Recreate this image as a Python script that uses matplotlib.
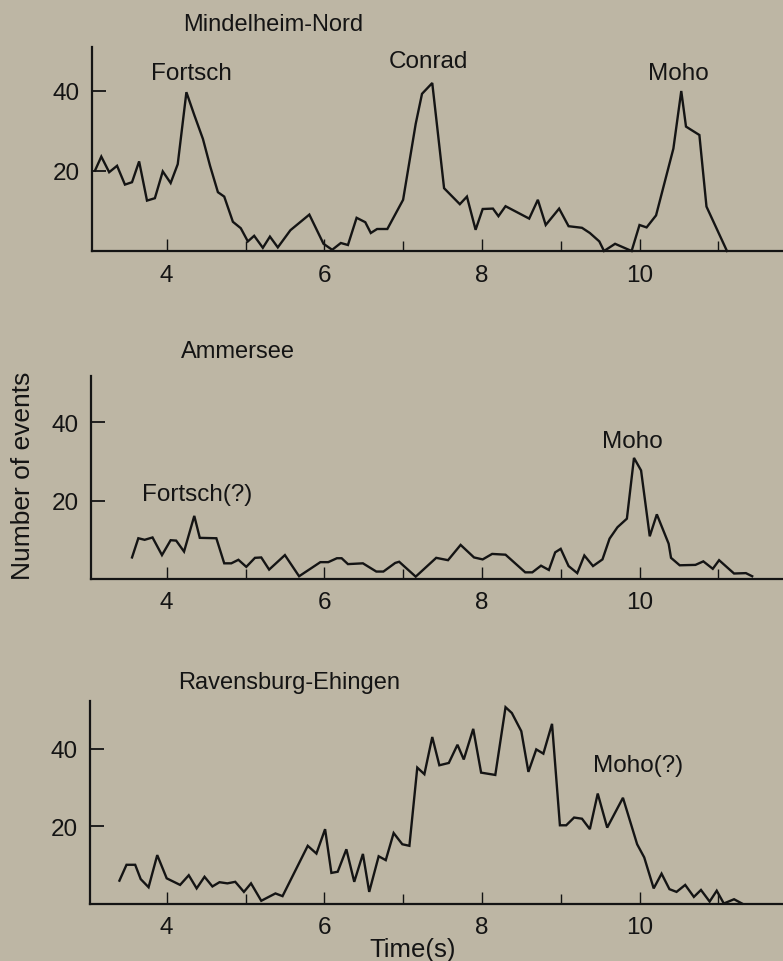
import matplotlib
matplotlib.use('Agg')
import matplotlib.pyplot as plt

plt.rcParams['font.family'] = ['Liberation Sans', 'DejaVu Sans']

bg = '#bdb6a4'
ink = '#141414'

# Mindelheim-Nord profile
t_mindel = [3.09, 3.17, 3.27, 3.37, 3.47, 3.56, 3.65, 3.75, 3.85, 3.95, 4.05, 4.14,
            4.25, 4.35, 4.46, 4.55, 4.65, 4.73, 4.84, 4.94, 5.03, 5.11, 5.22, 5.31,
            5.41, 5.57, 5.81, 5.99, 6.10, 6.21, 6.30, 6.41, 6.52, 6.59, 6.67, 6.80,
            7.00, 7.16, 7.24, 7.37, 7.52, 7.72, 7.81, 7.92, 8.01, 8.14, 8.21, 8.30,
            8.60, 8.71, 8.81, 8.98, 9.10, 9.27, 9.37, 9.49, 9.55, 9.69, 9.90, 10.00,
            10.09, 10.21, 10.43, 10.53, 10.59, 10.76, 10.85, 11.11]
n_mindel = [20.1, 23.6, 19.7, 21.3, 16.6, 17.2, 22.4, 12.6, 13.2, 19.9, 17.0, 21.7,
            39.7, 34.0, 28.0, 21.3, 14.7, 13.6, 7.3, 5.7, 2.4, 3.8, 0.8, 3.6,
            0.9, 5.2, 9.1, 1.8, 0.3, 2.0, 1.5, 8.3, 7.2, 4.5, 5.5, 5.5,
            12.8, 31.8, 39.3, 42.0, 15.7, 11.7, 13.6, 5.3, 10.5, 10.6, 8.7, 11.2,
            8.1, 12.8, 6.5, 10.6, 6.2, 5.8, 4.5, 2.4, 0.0, 1.8, 0.0, 6.5,
            5.9, 8.9, 25.6, 40.0, 31.1, 29.0, 11.1, 0.0]

# Ammersee profile
t_ammer = [3.56, 3.64, 3.72, 3.82, 3.94, 4.05, 4.12, 4.22, 4.35, 4.42, 4.63, 4.73,
           4.82, 4.91, 5.01, 5.12, 5.20, 5.30, 5.50, 5.68, 5.95, 6.05, 6.16, 6.22,
           6.30, 6.49, 6.66, 6.75, 6.90, 6.95, 7.16, 7.42, 7.57, 7.73, 7.90, 8.01,
           8.13, 8.30, 8.55, 8.64, 8.75, 8.85, 8.93, 9.00, 9.10, 9.21, 9.30, 9.41,
           9.53, 9.62, 9.72, 9.84, 9.93, 10.02, 10.13, 10.22, 10.37, 10.40, 10.51, 10.71,
           10.81, 10.93, 11.01, 11.20, 11.35, 11.43]
n_ammer = [5.5, 10.4, 10.0, 10.6, 6.1, 9.9, 9.8, 7.0, 16.1, 10.5, 10.4, 4.0,
           4.0, 4.9, 3.1, 5.4, 5.5, 2.4, 6.1, 0.7, 4.3, 4.3, 5.3, 5.3,
           3.8, 4.0, 1.9, 1.9, 4.1, 4.4, 0.6, 5.4, 4.8, 8.7, 5.5, 5.0,
           6.4, 6.2, 1.7, 1.7, 3.4, 2.3, 6.8, 7.7, 3.3, 1.5, 6.0, 3.3,
           5.0, 10.3, 13.2, 15.4, 30.9, 27.7, 10.9, 16.5, 9.0, 5.4, 3.5, 3.6,
           4.5, 2.6, 4.8, 1.4, 1.5, 0.7]

# Ravensburg-Ehingen profile
t_raven = [3.40, 3.49, 3.60, 3.67, 3.77, 3.88, 4.00, 4.17, 4.28, 4.38, 4.48, 4.58,
           4.67, 4.77, 4.87, 4.98, 5.07, 5.20, 5.38, 5.47, 5.79, 5.90, 6.01, 6.09,
           6.17, 6.28, 6.38, 6.49, 6.57, 6.69, 6.78, 6.88, 6.99, 7.08, 7.18, 7.27,
           7.37, 7.46, 7.58, 7.69, 7.77, 7.89, 7.99, 8.17, 8.30, 8.38, 8.50, 8.59,
           8.69, 8.78, 8.89, 8.99, 9.07, 9.17, 9.27, 9.37, 9.47, 9.59, 9.79, 9.97,
           10.06, 10.18, 10.28, 10.38, 10.47, 10.58, 10.69, 10.78, 10.89, 10.98, 11.07, 11.20,
           11.30]
n_raven = [5.9, 10.0, 10.0, 6.3, 4.2, 12.5, 6.5, 4.8, 7.3, 3.9, 6.9, 4.4,
           5.5, 5.2, 5.6, 3.0, 5.2, 0.7, 2.6, 1.9, 14.9, 12.9, 19.2, 7.9,
           8.2, 14.0, 5.6, 12.8, 3.0, 12.2, 11.2, 18.2, 15.3, 14.9, 35.1, 33.4,
           43.0, 35.7, 36.3, 41.0, 37.2, 45.1, 33.8, 33.2, 50.7, 49.2, 44.5, 34.0,
           39.8, 38.7, 46.4, 20.2, 20.2, 22.2, 21.9, 19.2, 28.4, 19.6, 27.3, 15.3,
           11.9, 3.9, 7.7, 3.7, 3.0, 4.8, 1.7, 3.5, 0.5, 3.3, 0.0, 1.1,
           0.0]

titles = ['Mindelheim-Nord', 'Ammersee', 'Ravensburg-Ehingen']
labels = [[('Fortsch', 4.32, 44.5), ('Conrad', 7.32, 47.6), ('Moho', 10.49, 44.5)],
          [('Fortsch(?)', 4.39, 21.7), ('Moho', 9.91, 35.2)],
          [('Moho(?)', 9.98, 35.8)]]
series = [(t_mindel, n_mindel), (t_ammer, n_ammer), (t_raven, n_raven)]

W, H = 783, 962
fs = 17.5
fig = plt.figure(figsize=(W / 100, H / 100), dpi=100, facecolor=bg)

# (left px, zero-line px, top px, y max) for each panel
frames = [(92, 252, 48, 51.0), (91, 580, 377, 51.8), (90, 904.5, 702, 52.3)]
title_pos = [(183, 25), (181, 352), (178, 683)]

for i, ((t, n), (lx, zy, ty, ymax)) in enumerate(zip(series, frames)):
    ax = fig.add_axes([lx / W, (H - zy) / H, (W - lx) / W, (zy - ty) / H])
    ax.set_facecolor('none')
    ax.plot(t, n, color=ink, lw=1.7, solid_joinstyle='miter', clip_on=False)
    ax.set_xlim(4 - (166.7 - lx) / 78.8, 4 + (W - 166.7) / 78.8)
    ax.set_ylim(0, ymax)
    for side in ('top', 'right'):
        ax.spines[side].set_visible(False)
    for side in ('left', 'bottom'):
        ax.spines[side].set_linewidth(1.6)
        ax.spines[side].set_color(ink)
    ax.set_xticks([4, 6, 8, 10])
    ax.set_xticks([5, 7, 9, 11], minor=True)
    ax.set_yticks([20, 40])
    ax.tick_params(axis='x', which='major', direction='in', length=9, width=1.0,
                   pad=9, labelsize=fs, colors=ink)
    ax.tick_params(axis='x', which='minor', direction='in', length=7, width=1.0, colors=ink)
    ax.tick_params(axis='y', direction='in', length=10, width=1.3, pad=9,
                   labelsize=fs, colors=ink)
    for txt, x, y in labels[i]:
        ax.text(x, y, txt, ha='center', va='center', fontsize=fs, color=ink)
    fig.text(title_pos[i][0] / W, 1 - title_pos[i][1] / H, titles[i],
             ha='left', va='center', fontsize=17, color=ink)

fig.text(23 / W, 1 - 476 / H, 'Number of events', rotation=90,
         ha='center', va='center', fontsize=19, color=ink)
fig.text(413 / W, 1 - 950 / H, 'Time(s)', ha='center', va='center',
         fontsize=18.5, color=ink)

fig.savefig('out.png', dpi=100, facecolor=bg)
